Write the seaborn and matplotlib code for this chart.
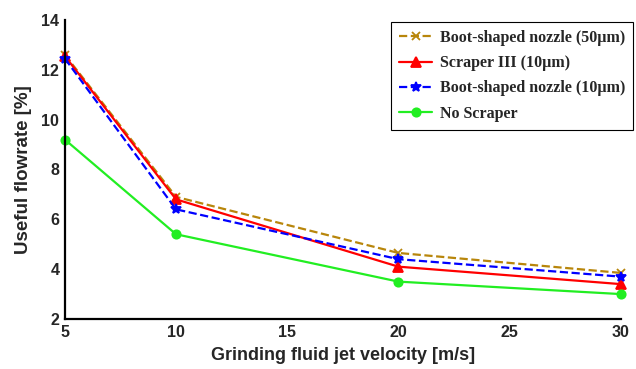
import numpy as np
import pandas as pd
import matplotlib
matplotlib.use('Agg')
import matplotlib.pyplot as plt
import seaborn as sns

# jet velocity [m/s]
velocity = [5, 10, 20, 30]

# useful flowrate [%]
boot_50 = [12.6, 6.9, 4.65, 3.85]
scraper_3 = [12.55, 6.8, 4.1, 3.4]
boot_10 = [12.45, 6.4, 4.4, 3.7]
no_scraper = [9.2, 5.4, 3.5, 3.0]

labels = ['Boot-shaped nozzle (50\u00b5m)', 'Scraper III (10\u00b5m)',
          'Boot-shaped nozzle (10\u00b5m)', 'No Scraper']
series = [boot_50, scraper_3, boot_10, no_scraper]
colors = ['#b8860b', '#ff0000', '#0000ff', '#22ee22']
styles = ['--', '-', '--', '-']
markers = ['x', '^', '*', 'o']
msizes = [6, 6.5, 7.5, 6]

sns.set_style('white')
plt.rcParams['font.family'] = ['Liberation Sans', 'DejaVu Sans']

fig = plt.figure(figsize=(6.36, 3.69), dpi=100)
ax = fig.add_axes([0.102, 0.1355, 0.874, 0.8105])

for lab, vals, c, ls, m, ms in zip(labels, series, colors, styles, markers, msizes):
    df = pd.DataFrame({'v': velocity, 'f': vals})
    sns.lineplot(data=df, x='v', y='f', ax=ax, color=c, linestyle=ls,
                 marker=m, markersize=ms, markeredgecolor=c, markeredgewidth=1.3,
                 linewidth=1.6, label=lab, clip_on=False)

ax.set_xlim(5, 30)
ax.set_ylim(2, 14)
ax.set_xticks([5, 10, 15, 20, 25, 30])
ax.set_yticks([2, 4, 6, 8, 10, 12, 14])
ax.tick_params(direction='in', length=4, width=1.2, labelsize=11.5, pad=4)
for t in ax.get_xticklabels() + ax.get_yticklabels():
    t.set_fontweight('bold')
ax.set_xlabel('Grinding fluid jet velocity [m/s]', fontsize=13, fontweight='bold', labelpad=5)
ax.set_ylabel('Useful flowrate [%]', fontsize=13.5, fontweight='bold', labelpad=7)
sns.despine(ax=ax)
ax.spines['left'].set_linewidth(1.6)
ax.spines['bottom'].set_linewidth(1.6)
ax.spines['left'].set_color('black')
ax.spines['bottom'].set_color('black')

leg = ax.legend(loc='upper right', bbox_to_anchor=(0.9953, 0.9404), bbox_transform=fig.transFigure,
                prop={'family': 'Liberation Serif', 'weight': 'bold', 'size': 11.5},
                frameon=True, fancybox=False, edgecolor='black', handlelength=2.1,
                borderaxespad=0, labelspacing=0.575, borderpad=0.5, handletextpad=0.45,
                framealpha=1)
leg.get_frame().set_linewidth(0.8)

fig.savefig('out.png', dpi=100)
